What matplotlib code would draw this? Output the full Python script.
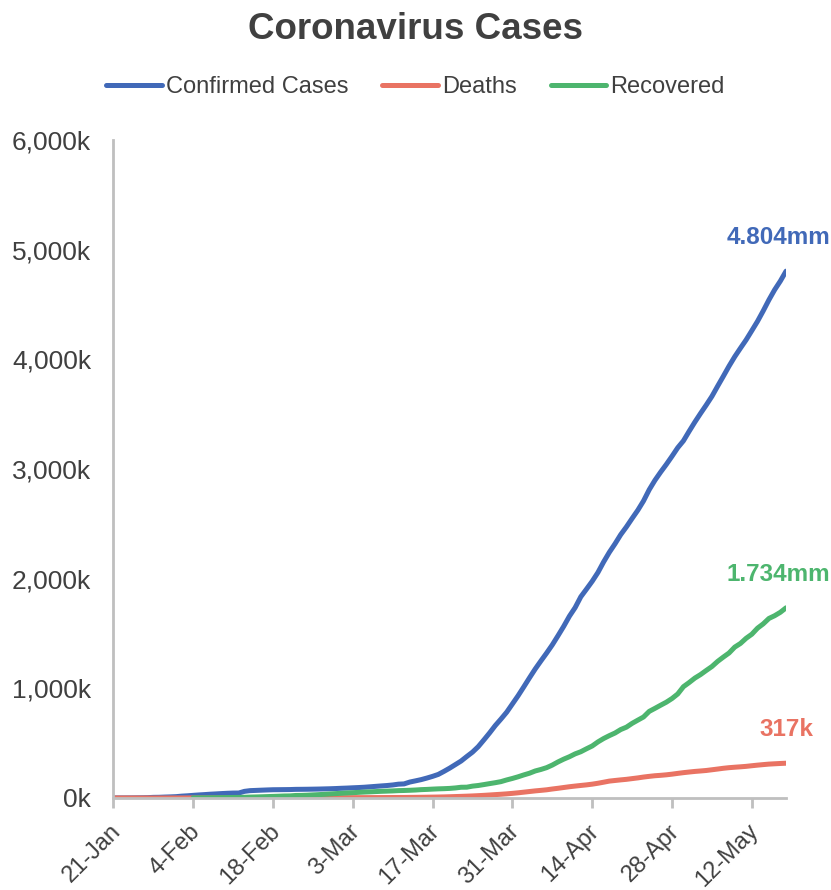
import matplotlib.pyplot as plt
import matplotlib.dates as mdates
import matplotlib.ticker as mticker
import matplotlib.transforms as mtransforms
import numpy as np
import pandas as pd

plt.rcParams['font.family'] = ['Liberation Sans', 'DejaVu Sans']

# daily global totals, 21-Jan to 18-May
dates = pd.date_range('2020-01-21', '2020-05-18', freq='D')

confirmed = [
    282, 555, 654, 941, 1434, 2118, 2927, 5578, 6166, 8234, 9927,
    12038, 16787, 19881, 23892, 27635, 30794, 34391, 37120, 40150, 42762,
    44802, 45221, 60368, 66885, 69030, 71224, 73258, 75136, 75639, 76197,
    76819, 78572, 78958, 79561, 80406, 81388, 82746, 84112, 86011,
    88369, 90306, 92840, 95120, 97886, 101801, 105847, 109821, 113590, 118620,
    125875, 128352, 145205, 156101, 167454, 181574, 197102, 214821, 242570, 272208,
    304507, 336953, 378235, 418045, 467653, 529591, 593291, 660706, 720117, 782365, 857487,
    932605, 1013466, 1095917, 1176060, 1249754, 1321481, 1396476, 1479804, 1565278, 1657526,
    1735650, 1834721, 1904838, 1976191, 2056054, 2152437, 2240190, 2317758, 2401378, 2472259,
    2549294, 2624074, 2708885, 2811193, 2896746, 2971475, 3041764, 3116398, 3193886, 3256846,
    3343777, 3427584, 3506729, 3583055, 3662691, 3755341, 3845718, 3938064, 4024009, 4101699,
    4177502, 4261747, 4347018, 4442163, 4542347, 4634068, 4713620, 4804000,
]

deaths = [
    6, 17, 18, 26, 42, 56, 82, 131, 133, 171, 213,
    259, 362, 426, 492, 564, 634, 719, 806, 906, 1013,
    1113, 1118, 1371, 1523, 1666, 1770, 1868, 2007, 2122, 2247,
    2251, 2458, 2469, 2629, 2708, 2770, 2814, 2872, 2941,
    2996, 3085, 3160, 3254, 3348, 3460, 3558, 3802, 3988, 4262,
    4615, 4720, 5404, 5819, 6440, 7126, 7905, 8733, 9867, 11299,
    12973, 14651, 16505, 18625, 21181, 23970, 27198, 30652, 33925, 37582, 42107,
    47180, 52983, 58787, 64606, 69374, 74565, 81865, 88338, 95455, 102525,
    108503, 114090, 119481, 125983, 134176, 143800, 153821, 159509, 165044, 169986,
    176583, 183067, 190858, 197159, 202846, 206544, 211167, 217153, 224172, 230859,
    236604, 241994, 246145, 250687, 257239, 263831, 270740, 276302, 280443, 284136,
    288333, 294050, 299431, 304316, 308866, 311800, 314600, 317000,
]

# no recovery figures before 4-Feb
recovered = [np.nan] * 14 + [
    852, 1124, 1487, 2011, 2616, 3244, 3946,
    4683, 5150, 6295, 8058, 9395, 10865, 12583, 14352, 16121, 18177,
    18890, 22886, 23394, 25227, 27905, 30384, 33277, 36711, 39782,
    42716, 45602, 48229, 51171, 53797, 55866, 58359, 60694, 62494, 64404,
    67003, 68324, 70251, 72624, 76034, 78088, 80840, 83207, 84854, 87256,
    91499, 97704, 98334, 108000, 113787, 122150, 130915, 139415, 149082, 164566, 178034,
    193177, 210263, 225796, 246152, 260012, 276515, 300054, 328661, 353975, 376096,
    402110, 421722, 448655, 474261, 511019, 542107, 568343, 592319, 623903, 645738,
    680387, 709694, 738486, 789565, 817165, 845733, 873470, 906987, 948425, 1014753,
    1052510, 1093112, 1125236, 1162724, 1198832, 1245413, 1284741, 1322050, 1375624, 1408980,
    1456209, 1493414, 1548547, 1587893, 1637067, 1662000, 1693197, 1734000,
]

series_names = ['Confirmed Cases', 'Deaths', 'Recovered']
colors = ['#4169B8', '#E97363', '#4DB56E']
text_color = '#404040'
axis_color = '#BFBFBF'


def end_label(v):
    if v >= 1e6:
        return f'{v / 1e6:.3f}mm'
    return f'{v / 1e3:.0f}k'


fig = plt.figure(figsize=(8.31, 8.90), dpi=100)
ax = fig.add_axes([0.1364, 0.1034, 0.8095, 0.7393])

labels = []
for name, vals, c in zip(series_names, [confirmed, deaths, recovered], colors):
    ax.plot(dates, vals, color=c, lw=3.6, label=name, solid_capstyle='round')
    t = ax.annotate(end_label(vals[-1]), (dates[-1], vals[-1]),
                    xytext=(0, 24), textcoords='offset points',
                    ha='center', va='center', color=c,
                    fontsize=17.5, fontweight='bold')
    labels.append(t)

ax.set_xlim(dates[0], dates[-1])
ax.set_ylim(0, 6000000)
ax.yaxis.set_major_locator(mticker.MultipleLocator(1000000))
ax.yaxis.set_major_formatter(mticker.FuncFormatter(lambda v, p: f'{v / 1000:,.0f}k'))

ticks = pd.date_range('2020-01-21', '2020-05-12', freq='14D')
ax.set_xticks(ticks)
ax.xaxis.set_major_formatter(mdates.DateFormatter('%-d-%b'))

for s in ['top', 'right']:
    ax.spines[s].set_visible(False)
for s in ['left', 'bottom']:
    ax.spines[s].set_color(axis_color)
    ax.spines[s].set_linewidth(2)
ax.tick_params(axis='y', length=0, pad=16, labelsize=19, labelcolor=text_color)
ax.tick_params(axis='x', length=7, width=2, color=axis_color, pad=9,
               labelsize=17, labelcolor=text_color)

# rotated date labels, nudged a little left of their ticks
shift = mtransforms.ScaledTranslation(-4 / 100, 0, fig.dpi_scale_trans)
for lbl in ax.get_xticklabels():
    lbl.set_rotation(45)
    lbl.set_ha('right')
    lbl.set_rotation_mode('anchor')
    lbl.set_transform(lbl.get_transform() + shift)

fig.text(0.5, 0.967, 'Coronavirus Cases', ha='center', va='center',
         fontsize=26.5, fontweight='bold', color=text_color)
fig.legend(loc='center', bbox_to_anchor=(0.5, 0.902), ncol=3, frameon=False,
           fontsize=17, handlelength=2.35, handletextpad=0.17, columnspacing=1.45,
           labelcolor=text_color)

# keep the end labels inside the figure
fig.canvas.draw()
renderer = fig.canvas.get_renderer()
for t in labels:
    bb = t.get_window_extent(renderer)
    overflow = bb.x1 - (fig.bbox.width - 1)
    if overflow > 0:
        x0, y0 = t.xyann
        t.xyann = (x0 - overflow * 72 / fig.dpi, y0)

plt.savefig('out.png', dpi=100)
